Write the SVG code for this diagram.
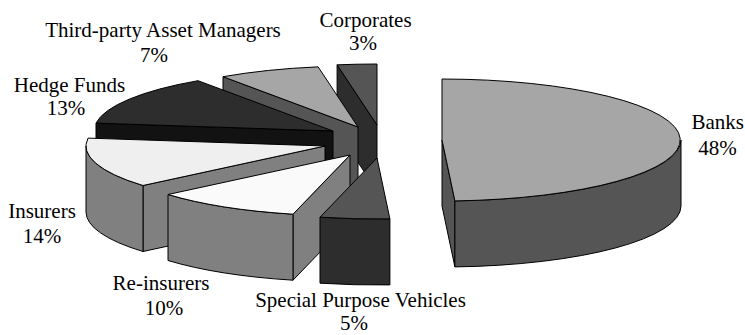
<svg xmlns="http://www.w3.org/2000/svg" width="745" height="335" viewBox="0 0 745 335">
<style>
path{stroke:#000;stroke-width:1;stroke-linejoin:round}
text{font-family:"Liberation Serif","Times New Roman",serif;font-size:21px;fill:#000;text-anchor:middle}
.w1{fill:#fafafa}.w2{fill:#efefef}.g1{fill:#a6a6a6}.g2{fill:#808080}.g3{fill:#555555}.g4{fill:#2d2d2d}.g5{fill:#121212}
</style>
<rect width="745" height="335" fill="#fff"/>
<g id="corporates">
<path class="g4" d="M337.1,64.85 L377,125 L377,191 L337.1,130.85 Z"/>
<path class="g3" d="M377,125 L337.1,64.85 A239,61 0 0 1 377,64 Z"/>
<text x="365.5" y="26.7">Corporates</text>
<text x="363" y="50">3%</text>
</g>
<g id="third-party">
<path class="g3" d="M223,76.7 L358,127 L358,193 L223,142.7 Z"/>
<path class="g1" d="M358,127 L223,76.7 A239,61 0 0 1 318.1,66.85 Z"/>
<text x="163" y="37.3">Third-party Asset Managers</text>
<text x="154" y="61.7">7%</text>
</g>
<g id="hedge-funds">
<path class="g5" d="M96,123.1 L333,131 L333,197 L96,189.1 Z"/>
<path class="g4" d="M333,131 L96,123.1 A239,61 0 0 1 198,80.7 Z"/>
<text x="69.5" y="91.7">Hedge Funds</text>
<text x="66" y="115">13%</text>
</g>
<g id="insurers">
<path class="g2" d="M143,185.5 L325,146 L325,212 L143,251.5 Z"/>
<path class="g2" d="M143,185.5 A239,61 0 0 1 86,146 L86,212 A239,61 0 0 0 143,251.5 Z"/>
<path class="w2" d="M325,146 L143,185.5 A239,61 0 0 1 88,138.1 Z"/>
<text x="42" y="218">Insurers</text>
<text x="42" y="242.7">14%</text>
</g>
<g id="re-insurers">
<path class="g2" d="M293,214.2 L350,155 L350,221 L293,280.2 Z"/>
<path class="g2" d="M293,214.2 A239,61 0 0 1 168,194.5 L168,260.5 A239,61 0 0 0 293,280.2 Z"/>
<path class="w1" d="M350,155 L293,214.2 A239,61 0 0 1 168,194.5 Z"/>
<text x="161" y="290">Re-insurers</text>
<text x="164" y="315">10%</text>
</g>
<g id="spv">
<path class="g4" d="M389.9,218.9 A239,61 0 0 1 320,217.2 L320,283.2 A239,61 0 0 0 389.9,284.9 Z"/>
<path class="g3" d="M377,158 L389.9,218.9 A239,61 0 0 1 320,217.2 Z"/>
<text x="360.5" y="307">Special Purpose Vehicles</text>
<text x="354" y="330">5%</text>
</g>
<g id="banks">
<path class="g3" d="M442,140 L454.9,200.9 L454.9,266.9 L442,206 Z"/>
<path class="g3" d="M681,140 A239,61 0 0 1 454.9,200.9 L454.9,266.9 A239,61 0 0 0 681,206 Z"/>
<path class="g1" d="M442,140 L442,79 A239,61 0 0 1 454.9,200.9 Z"/>
<text x="717.7" y="129.3">Banks</text>
<text x="717.5" y="155">48%</text>
</g>
<g id="connectors"></g>
</svg>
